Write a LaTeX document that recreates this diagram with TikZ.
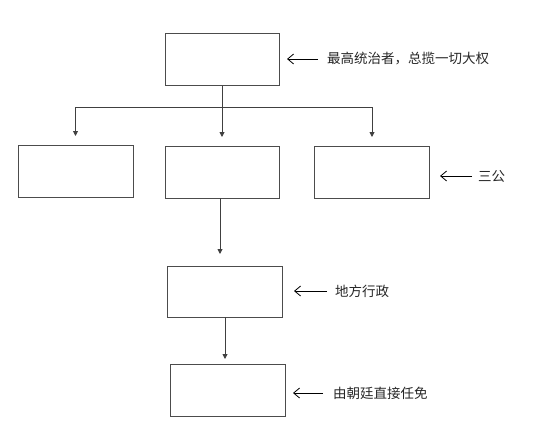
\documentclass[tikz,border=0pt]{standalone}
\usepackage{fontspec}
\newfontfamily\cjk{Noto Sans CJK SC}
\usetikzlibrary{arrows.meta}
\begin{document}
\begin{tikzpicture}[x=1pt,y=-1pt,
  box/.style={draw=black!70,line width=0.9pt,minimum width=114pt,minimum height=52pt,inner sep=0pt,anchor=north west},
  conn/.style={draw=black!75,line width=0.9pt},
  down/.style={conn,-{Triangle[width=5pt,length=5pt]}},
  lbl/.style={anchor=west,inner sep=0pt,font=\cjk\fontsize{13.5}{16}\selectfont,text=black!85},
  note/.style={draw=black,line width=0.8pt,-{Straight Barb[length=6pt,width=10pt]}}]
\useasboundingbox (0,0) rectangle (553,447);
\node[box] (top) at (165,33) {};
\node[box,minimum width=115pt] (b1) at (18,145) {};
\node[box] (b2) at (165,146) {};
\node[box,minimum width=115pt] (b3) at (314,146) {};
\node[box,minimum width=115pt,minimum height=51pt] (b4) at (167,266) {};
\node[box,minimum width=115pt] (b5) at (170,364) {};
% bus
\coordinate (jt) at (222,107);
\coordinate (j1) at (75.5,107);
\coordinate (j3) at (372,107);
\draw[conn] (top.south -| jt) -- (jt);
\draw[conn] (j1) -- (j3);
\draw[down,shorten >=9pt] (j1) -- (j1 |- b1.north);
\draw[down,shorten >=9pt] (jt) -- (jt |- b2.north);
\draw[down,shorten >=9pt] (j3) -- (j3 |- b3.north);
\coordinate (s2) at (220,198);
\draw[down,shorten >=12pt] (s2) -- (s2 |- b4.north);
\coordinate (s4) at (225,317);
\draw[down,shorten >=5pt] (s4) -- (s4 |- b5.north);
% labels
\node[lbl] (t1) at (327,59) {最高统治者，总揽一切大权};
\node[lbl] (t2) at (478,176) {三公};
\node[lbl] (t3) at (335,291) {地方行政};
\node[lbl] (t4) at (333,393) {由朝廷直接任免};
\coordinate (a1) at (287,59);
\coordinate (a2) at (440,176);
\coordinate (a3) at (294,291);
\coordinate (a4) at (293,393);
\draw[note,shorten <=9pt] (t1.west) -- (a1);
\draw[note,shorten <=6pt] (t2.west) -- (a2);
\draw[note,shorten <=8pt] (t3.west) -- (a3);
\draw[note,shorten <=10pt] (t4.west) -- (a4);
\end{tikzpicture}
\end{document}
